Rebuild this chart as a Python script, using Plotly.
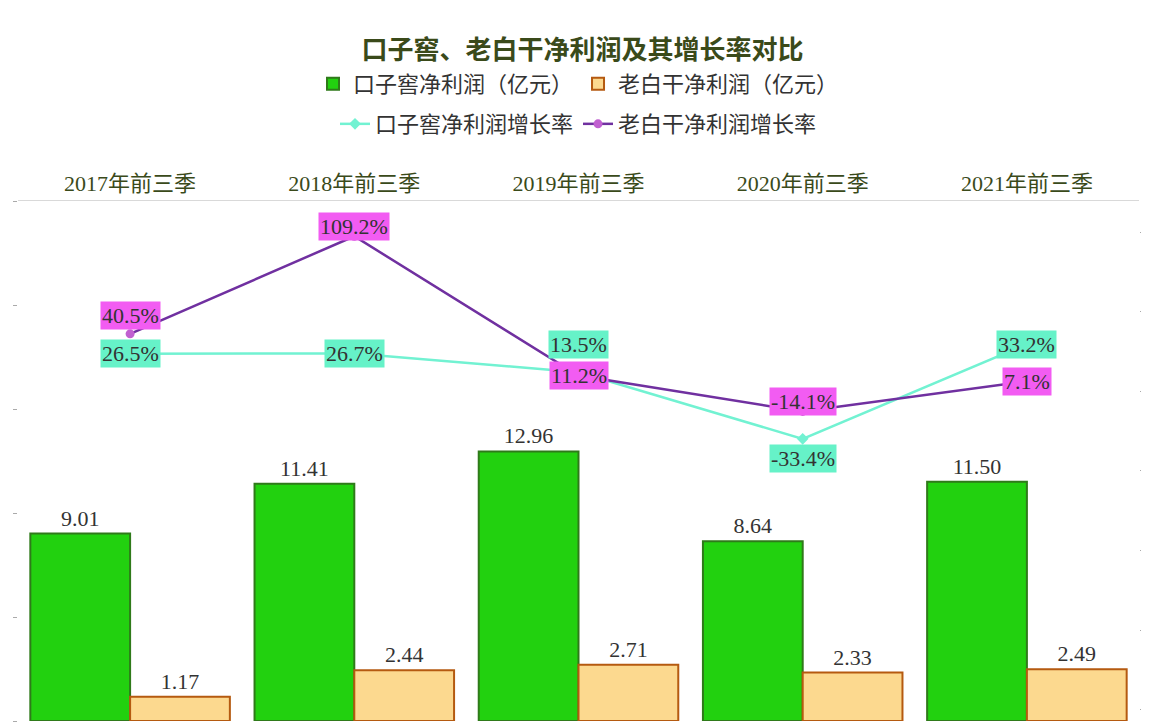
import plotly.graph_objects as go

categories = ["2017年前三季", "2018年前三季", "2019年前三季", "2020年前三季", "2021年前三季"]
kzj_profit = [9.01, 11.41, 12.96, 8.64, 11.50]
lbg_profit = [1.17, 2.44, 2.71, 2.33, 2.49]
kzj_growth = [26.5, 26.7, 13.5, -33.4, 33.2]
lbg_growth = [40.5, 109.2, 11.2, -14.1, 7.1]

FONT = "Liberation Serif, Noto Sans CJK SC"

fig = go.Figure()
fig.add_trace(go.Bar(x=categories, y=kzj_profit, name="口子窖净利润（亿元）", legend="legend",
                     marker=dict(color="#22d10f", line=dict(color="#2f7a1a", width=2)),
                     text=[f"{v:.2f}" for v in kzj_profit], textposition="outside",
                     textfont=dict(size=22, color="#333333"), cliponaxis=False))
fig.add_trace(go.Bar(x=categories, y=lbg_profit, name="老白干净利润（亿元）", legend="legend",
                     marker=dict(color="#fcd98f", line=dict(color="#b55a10", width=2)),
                     text=[f"{v:.2f}" for v in lbg_profit], textposition="outside",
                     textfont=dict(size=22, color="#333333"), cliponaxis=False))
fig.add_trace(go.Scatter(x=categories, y=kzj_growth, name="口子窖净利润增长率", yaxis="y2",
                         legend="legend2",
                         mode="lines+markers", line=dict(color="#72f2d2", width=2.5),
                         marker=dict(symbol="diamond", size=9, color="#72f2d2")))
fig.add_trace(go.Scatter(x=categories, y=lbg_growth, name="老白干净利润增长率", yaxis="y2",
                         legend="legend2",
                         mode="lines+markers", line=dict(color="#7030a0", width=2.5),
                         marker=dict(symbol="circle", size=9, color="#c060d0")))

# value labels for the growth lines
kzj_shift = [0, 0, 28, -20, 0]
lbg_shift = [18, 10, 0, 10, 0]
for c, v, s in zip(categories, kzj_growth, kzj_shift):
    fig.add_annotation(x=c, y=v, yref="y2", text=f"{v}%", showarrow=False, yshift=s,
                       bgcolor="#66f2c8", font=dict(size=22, color="#333333", family=FONT))
for c, v, s in zip(categories, lbg_growth, lbg_shift):
    fig.add_annotation(x=c, y=v, yref="y2", text=f"{v}%", showarrow=False, yshift=s,
                       bgcolor="#f25cf2", font=dict(size=22, color="#333333", family=FONT))

fig.update_layout(
    width=1149, height=723,
    title=dict(text="<b>口子窖、老白干净利润及其增长率对比</b>", x=0.5, y=0.955,
               font=dict(size=26, color="#3a4a1a", family=FONT)),
    font=dict(family=FONT, color="#333333"),
    barmode="group", bargap=0.11, bargroupgap=0,
    plot_bgcolor="white", paper_bgcolor="white",
    margin=dict(l=10, r=18, t=193, b=10),
    legend=dict(orientation="h", x=0.5, xanchor="center", y=1.225, yanchor="middle",
                font=dict(size=22), traceorder="normal", bgcolor="rgba(0,0,0,0)"),
    legend2=dict(orientation="h", x=0.5, xanchor="center", y=1.148, yanchor="middle",
                 font=dict(size=22), traceorder="normal", bgcolor="rgba(0,0,0,0)"),
    xaxis=dict(side="top", tickfont=dict(size=22, color="#3a4a1a"), showline=True,
               linecolor="#d9d9d9", ticks="", showgrid=False, automargin=False),
    yaxis=dict(range=[0, 25], showticklabels=False, showgrid=False, ticks="outside",
               ticklen=4, tickcolor="#aaaaaa", dtick=5, zeroline=False, automargin=False),
    yaxis2=dict(range=[-232, 134], overlaying="y", side="right", showticklabels=False,
                showgrid=False, ticks="outside", ticklen=4, tickcolor="#aaaaaa", dtick=56,
                zeroline=False, automargin=False),
)
fig.write_html("out.html")
